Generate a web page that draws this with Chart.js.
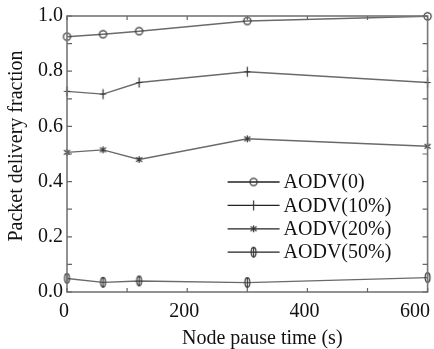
<!DOCTYPE html>
<html><head><meta charset="utf-8">
<script src="https://cdn.jsdelivr.net/npm/chart.js@4"></script>
<style>html,body{margin:0;padding:0;background:#fff}#wrap{width:434px;height:349px;position:relative}</style>
</head><body><div id="wrap"><canvas id="c" width="434" height="349"></canvas></div>
<script>
// ---- data ----
const pauseTimes = [0, 60, 120, 300, 600];
const aodv0  = [0.925, 0.934, 0.945, 0.982, 0.999];
const aodv10 = [0.727, 0.717, 0.759, 0.798, 0.759];
const aodv20 = [0.506, 0.515, 0.480, 0.555, 0.528];
const aodv50 = [0.049, 0.035, 0.040, 0.034, 0.052];
const seriesLabels = ['AODV(0)', 'AODV(10%)', 'AODV(20%)', 'AODV(50%)'];
const xTickValues = [0, 200, 400, 600];
const xMinorTicks = [0, 100, 200, 300, 400, 500, 600];
const yTickValues = [0, 0.2, 0.4, 0.6, 0.8, 1.0];
const yMinorTicks = [0, 0.1, 0.2, 0.3, 0.4, 0.5, 0.6, 0.7, 0.8, 0.9, 1.0];
const xTitle = 'Node pause time (s)';
const yTitle = 'Packet delivery fraction';

const FONT = '"Liberation Serif", "Times New Roman", serif';
const TXT = '#111';
const LINE = '#6a6a6a';
const MARK = '#333';

function marker(kind) {
  const c = document.createElement('canvas');
  c.width = 13; c.height = 13;
  const g = c.getContext('2d');
  g.strokeStyle = MARK; g.lineWidth = 1.2;
  const m = 6.5;
  g.beginPath();
  if (kind === 'circle') {
    g.arc(m, m, 3.6, 0, Math.PI * 2);
  } else if (kind === 'plus') {
    g.moveTo(m, m - 5); g.lineTo(m, m + 5);
    g.moveTo(m - 3, m); g.lineTo(m + 3, m);
  } else if (kind === 'star') {
    g.moveTo(m, m - 3.5); g.lineTo(m, m + 3.5);
    g.moveTo(m - 3, m - 2.2); g.lineTo(m + 3, m + 2.2);
    g.moveTo(m - 3, m + 2.2); g.lineTo(m + 3, m - 2.2);
  } else if (kind === 'lens') {
    g.ellipse(m, m, 2.4, 4.8, 0, 0, Math.PI * 2);
    g.moveTo(m, m - 5); g.lineTo(m, m + 5);
  }
  g.stroke();
  return c;
}
const markers = [marker('circle'), marker('plus'), marker('star'), marker('lens')];
const seriesValues = [aodv0, aodv10, aodv20, aodv50];

const datasets = seriesValues.map((vals, i) => ({
  label: seriesLabels[i],
  data: pauseTimes.map((x, j) => ({ x: x, y: vals[j] })),
  borderColor: LINE,
  borderWidth: 1.4,
  pointStyle: markers[i],
  pointRadius: 5,
  tension: 0,
  fill: false,
  clip: false
}));

const framePlugin = {
  id: 'frame',
  afterDatasetsDraw(chart) {
    const { ctx, chartArea: a, scales } = chart;
    const xs = scales.x, ys = scales.y;
    ctx.save();
    // frame
    ctx.strokeStyle = '#777'; ctx.lineWidth = 1.6;
    ctx.strokeRect(a.left, a.top, a.right - a.left, a.bottom - a.top);
    // ticks (inward)
    ctx.strokeStyle = '#666'; ctx.lineWidth = 1.2;
    ctx.beginPath();
    xMinorTicks.forEach(v => {
      const px = xs.getPixelForValue(v);
      ctx.moveTo(px, a.bottom); ctx.lineTo(px, a.bottom - 4);
      ctx.moveTo(px, a.top); ctx.lineTo(px, a.top + 4);
    });
    yMinorTicks.forEach(v => {
      const py = ys.getPixelForValue(v);
      ctx.moveTo(a.left, py); ctx.lineTo(a.left + 5, py);
      ctx.moveTo(a.right, py); ctx.lineTo(a.right - 5, py);
    });
    ctx.stroke();
    // x tick labels
    ctx.fillStyle = TXT;
    ctx.font = '20px ' + FONT;
    ctx.textAlign = 'center'; ctx.textBaseline = 'middle';
    const W = chart.width;
    xTickValues.forEach(v => {
      let px = xs.getPixelForValue(v) - 3;
      const w = ctx.measureText(String(v)).width;
      if (px + w / 2 > W - 4) px = W - 4 - w / 2;
      ctx.fillText(String(v), px, a.bottom + 20);
    });
    // axis titles
    ctx.fillText(xTitle, (a.left + a.right) / 2 + 15, a.bottom + 47);
    ctx.save();
    ctx.translate(17, (a.top + a.bottom) / 2 - 8);
    ctx.rotate(-Math.PI / 2);
    ctx.fillText(yTitle, 0, 0);
    ctx.restore();
    // legend
    const lx0 = a.right - 200, lx1 = a.right - 148, tx = a.right - 144;
    const ly0 = a.bottom - 110, step = 23.4;
    ctx.textAlign = 'left';
    chart.data.datasets.forEach((ds, i) => {
      const y = ly0 + i * step;
      ctx.strokeStyle = '#222'; ctx.lineWidth = 1.3;
      ctx.beginPath(); ctx.moveTo(lx0, y); ctx.lineTo(lx1, y); ctx.stroke();
      const mk = markers[i];
      ctx.drawImage(mk, (lx0 + lx1) / 2 - mk.width / 2, y - mk.height / 2);
      ctx.fillStyle = TXT;
      ctx.fillText(ds.label, tx, y + 1);
    });
    ctx.restore();
  }
};

new Chart(document.getElementById('c'), {
  type: 'line',
  data: { datasets: datasets },
  plugins: [framePlugin],
  options: {
    responsive: false,
    animation: false,
    devicePixelRatio: 1,
    layout: { padding: { top: 15, right: 4, left: 0, bottom: 0 } },
    plugins: { legend: { display: false }, tooltip: { enabled: false } },
    scales: {
      x: {
        type: 'linear', min: 0, max: 600,
        ticks: { display: false },
        grid: { display: false, drawTicks: false },
        border: { display: false },
        afterFit(s) { s.height = 57; }
      },
      y: {
        min: 0, max: 1,
        afterBuildTicks(s) { s.ticks = yTickValues.map(v => ({ value: v })); },
        ticks: {
          font: { family: FONT, size: 20 }, color: TXT, padding: 4,
          callback: v => Number(v).toFixed(1)
        },
        grid: { display: false, drawTicks: false },
        border: { display: false },
        afterFit(s) { s.width = 67; }
      }
    }
  }
});
</script>
</body></html>
